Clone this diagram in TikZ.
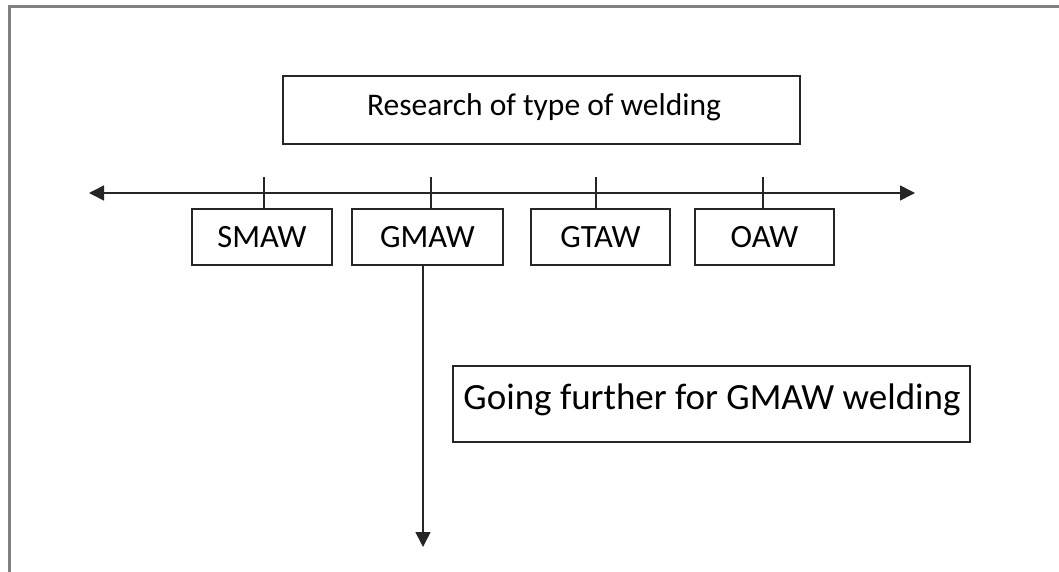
\documentclass[tikz,border=0pt]{standalone}
\usepackage{fontspec}
\setmainfont{Carlito}
\usetikzlibrary{arrows.meta}
\begin{document}
\begin{tikzpicture}[x=1pt,y=-1pt,
  box/.style={draw=black!85,line width=1.6pt,rectangle,inner sep=0pt,align=center},
  wbox/.style={box,minimum height=56pt,font=\fontsize{32.5}{38}\selectfont},
  conn/.style={draw=black!85,line width=1.6pt},
  arr/.style={conn,-{Triangle[length=15pt,width=15pt]}},
  darr/.style={conn,{Triangle[length=15pt,width=15pt]}-{Triangle[length=15pt,width=15pt]}}]
\useasboundingbox (0,0) rectangle (1059,572);
% frame
\draw[gray,line width=3pt] (9,572) -- (9,7) -- (1059,7);
% top box
\node[box,minimum width=517pt,minimum height=68pt] (top) at (541.5,110) {};
\node[font=\fontsize{31.5}{37}\selectfont,inner sep=0pt] (toptext) at (544,107) {Research of type of welding};
% horizontal arrow
\coordinate (hl) at (89,193);
\coordinate (hr) at (915,193);
\draw[darr] (hl) -- (hr);
% small boxes
\node[wbox,minimum width=140pt] (smaw) at (262,237) {SMAW};
\node[wbox,minimum width=151pt] (gmaw) at (427.5,237) {GMAW};
\node[wbox,minimum width=139pt] (gtaw) at (600.5,237) {GTAW};
\node[wbox,minimum width=139pt] (oaw) at (764.5,237) {OAW};
% ticks
\draw[conn] (smaw.north -| 264,0) -- (264,177);
\draw[conn] (gmaw.north -| 431,0) -- (431,177);
\draw[conn] (gtaw.north -| 596,0) -- (596,177);
\draw[conn] (oaw.north -| 763,0) -- (763,177);
% vertical arrow
\coordinate (down) at (423,547);
\draw[arr] (gmaw.south -| down) -- (down);
% going box
\node[box,minimum width=517pt,minimum height=76pt] (go) at (711.5,404) {};
\node[font=\fontsize{37}{43}\selectfont,inner sep=0pt] (gotext) at (712,400) {Going further for GMAW welding};
\end{tikzpicture}
\end{document}
